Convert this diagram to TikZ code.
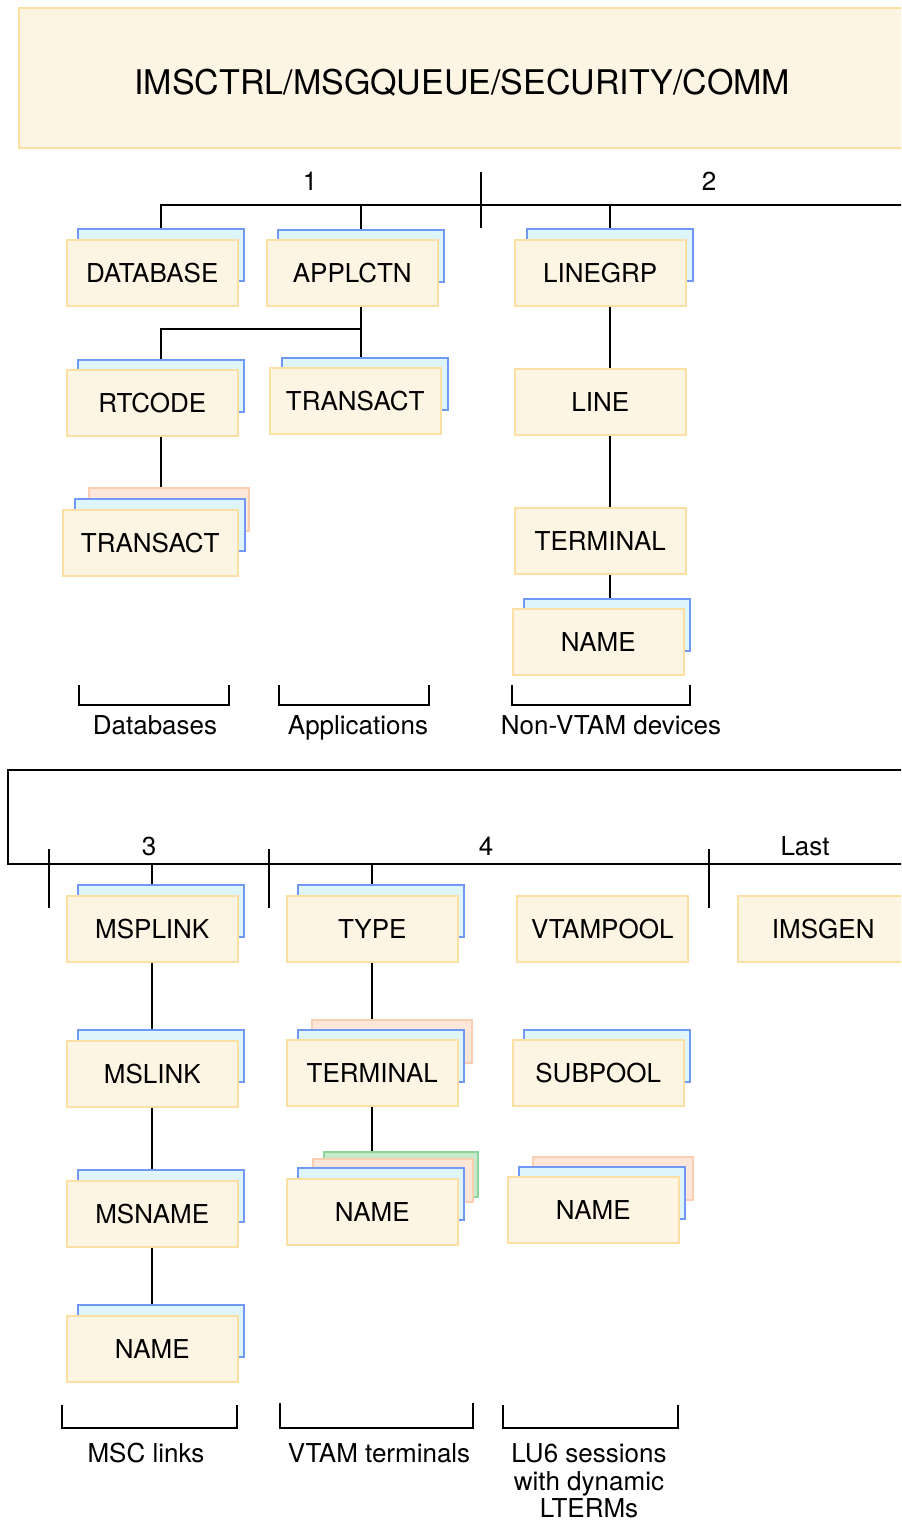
\documentclass[tikz,border=0pt]{standalone}
\usepackage{fontspec}
\setmainfont{TeX Gyre Heros}
\usepackage{tikz}
\usetikzlibrary{positioning}
\definecolor{boxfill}{HTML}{FDF5E4}
\definecolor{boxline}{HTML}{FCDFA3}
\definecolor{bluefill}{HTML}{DEF5FC}
\definecolor{blueline}{HTML}{7098F4}
\definecolor{salfill}{HTML}{FEE6D9}
\definecolor{salline}{HTML}{FCCFB2}
\definecolor{grnfill}{HTML}{C6EBCC}
\definecolor{grnline}{HTML}{8FD59B}

\begin{document}
\begin{tikzpicture}[x=0.5pt,y=-0.5pt,font=\fontsize{13}{13.75}\selectfont,
  front/.style={draw=boxline,fill=boxfill,line width=0.75pt,anchor=north west,minimum width=85.5pt,minimum height=33pt,inner sep=0pt,text height=9.4pt,text depth=0pt},
  backblue/.style={draw=blueline,fill=bluefill,line width=0.75pt,anchor=north west,minimum width=83pt,minimum height=26pt,inner sep=0pt},
  backsal/.style={draw=salline,fill=salfill,line width=0.75pt,anchor=north west,minimum width=80pt,minimum height=21.5pt,inner sep=0pt},
  backgrn/.style={draw=grnline,fill=grnfill,line width=1.2pt,anchor=north west,minimum width=77pt,minimum height=22.5pt,inner sep=0pt},
  wire/.style={line width=1pt},
  tick/.style={line width=0.8pt},
  lbl/.style={inner sep=0pt,align=center,text height=9.4pt,text depth=0pt}]
\useasboundingbox (0,0) rectangle (901,1522);
\clip (0,0) rectangle (901,1522);

\node[front,minimum width=443.5pt,minimum height=70pt,text height=17pt,font=\fontsize{17}{20}\selectfont] (title) at (18,7) {IMSCTRL/MSGQUEUE/SECURITY/COMM};

% first part
\node[lbl] (n1) at (310,181) {1};
\node[lbl] (n2) at (709,181) {2};
\coordinate (bar1) at (910,205);
\coordinate (t1a) at (481,172);
\coordinate (t1b) at (481,228);
\draw[tick] (t1a) -- (t1b);

\node[backblue] (dbB) at (77,228) {};
\node[front] (db) at (66,239) {DATABASE};
\node[backblue] (apB) at (277,229) {};
\node[front] (ap) at (266,239) {APPLCTN};
\node[backblue] (rcB) at (77,359) {};
\node[front] (rc) at (66,369) {RTCODE};
\node[backblue] (trAB) at (281,357) {};
\node[front] (trA) at (269,367) {TRANSACT};
\node[backsal] (trDS) at (88,487) {};
\node[backblue,minimum width=85pt] (trDB) at (74,498) {};
\node[front,minimum width=87.5pt] (trD) at (62,509) {TRANSACT};
\node[backblue] (lgB) at (526,228) {};
\node[front] (lg) at (514,239) {LINEGRP};
\node[front] (ln) at (514,368) {LINE};
\node[front] (tm) at (514,507) {TERMINAL};
\node[backblue] (nmB) at (523,598) {};
\node[front] (nm) at (512,608) {NAME};

\draw[wire] (dbB.north) |- (bar1);
\draw[wire] (apB.north) -- (apB.north |- bar1);
\draw[wire] (lgB.north) -- (lgB.north |- bar1);
\coordinate (apJ) at (360,329);
\draw[wire] (ap.south -| apB.north) -- (trAB.north -| apB.north);
\draw[wire] (apJ) -| (rcB.north);
\draw[wire] (rc.south -| rcB.north) -- (trDS.north -| rcB.north);
\draw[wire] (lg.south -| lgB.north) -- (ln.north -| lgB.north);
\draw[wire] (ln.south -| lgB.north) -- (tm.north -| lgB.north);
\draw[wire] (tm.south -| lgB.north) -- (nmB.north -| lgB.north);

\draw[wire] (79,685) |- (229,705) -- (229,685);
\draw[wire] (279,685) |- (429,705) -- (429,685);
\draw[wire] (512,685) |- (690,705) -- (690,685);
\node[lbl] (dbs) at (155,725) {Databases};
\node[lbl] (aps) at (358,725) {Applications};
\node[lbl] (nvt) at (611,725) {Non-VTAM devices};

% second part
\draw[wire] (910,770) -- (8,770) -- (8,864) -- (910,864);
\coordinate (bar2) at (910,864);
\draw[tick] (49,849) -- (49,908);
\draw[tick] (269,849) -- (269,908);
\draw[tick] (709,849) -- (709,908);
\node[lbl] (n3) at (149,846) {3};
\node[lbl] (n4) at (486,846) {4};
\node[lbl] (nl) at (805,846) {Last};

\node[backblue] (mpB) at (77,884) {};
\node[front] (mp) at (66,895) {MSPLINK};
\node[backblue] (tyB) at (297,884) {};
\node[front] (ty) at (286,895) {TYPE};
\node[front] (vp) at (516,895) {VTAMPOOL};
\node[front] (ig) at (737,895) {IMSGEN};
\node[backblue] (mlB) at (77,1029) {};
\node[front] (ml) at (66,1040) {MSLINK};
\node[backsal] (vtS) at (311,1019) {};
\node[backblue] (vtB) at (297,1029) {};
\node[front] (vt) at (286,1039) {TERMINAL};
\node[backblue] (spB) at (523,1029) {};
\node[front] (sp) at (512,1039) {SUBPOOL};
\node[backblue] (mnB) at (77,1169) {};
\node[front] (mn) at (66,1180) {MSNAME};
\node[backgrn] (vnG) at (323,1151) {};
\node[backsal] (vnS) at (312,1158) {};
\node[backblue] (vnB) at (297,1167) {};
\node[front] (vn) at (286,1178) {NAME};
\node[backsal] (luS) at (532,1156) {};
\node[backblue] (luB) at (518,1166) {};
\node[front] (lu) at (507,1176) {NAME};
\node[backblue] (nnB) at (77,1304) {};
\node[front] (nn) at (66,1315) {NAME};

\draw[wire] (mp.north |- mpB.north) -- (mp.north |- bar2);
\draw[wire] (ty.north |- tyB.north) -- (ty.north |- bar2);
\draw[wire] (mp.south) -- (ml.north |- mlB.north);
\draw[wire] (ml.south) -- (mn.north |- mnB.north);
\draw[wire] (mn.south) -- (nn.north |- nnB.north);
\draw[wire] (ty.south) -- (ty.south |- vtS.north);
\draw[wire] (vt.south) -- (vt.south |- vnG.north);

\draw[wire] (62,1405) |- (237,1428) -- (237,1405);
\draw[wire] (280,1403) |- (473,1428) -- (473,1403);
\draw[wire] (503,1405) |- (678,1428) -- (678,1405);
\node[lbl] (msc) at (146,1453) {MSC links};
\node[lbl] (vtm) at (379,1453) {VTAM terminals};
\node[lbl,text height=,text depth=] (lu6) at (589,1481) {LU6 sessions\\with dynamic\\LTERMs};
\end{tikzpicture}
\end{document}
